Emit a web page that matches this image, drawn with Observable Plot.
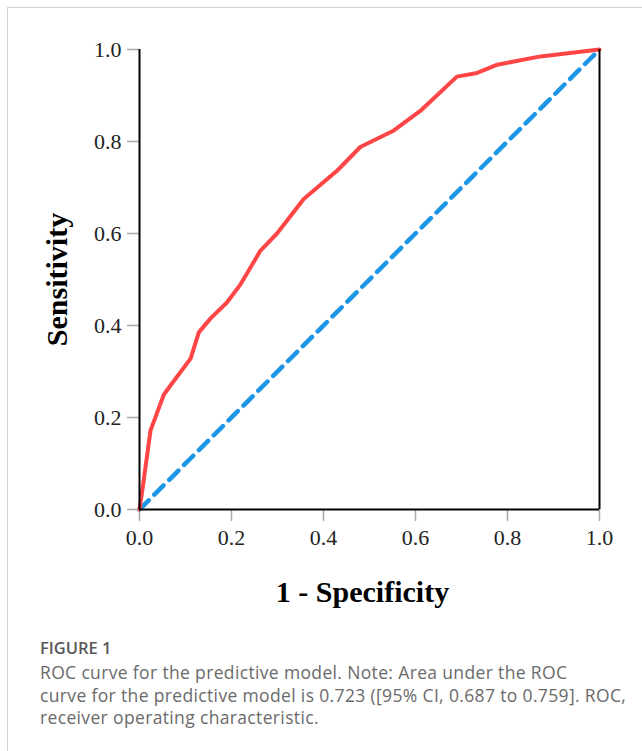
<!DOCTYPE html>
<html>
<head>
<meta charset="utf-8">
<script src="https://cdn.jsdelivr.net/npm/d3@7"></script>
<script src="https://cdn.jsdelivr.net/npm/@observablehq/plot@0.6"></script>
<style>
  html, body { margin: 0; padding: 0; background: #fff; }
  body { width: 642px; height: 751px; position: relative; overflow: hidden; }
  #chart { position: absolute; left: 0; top: 0; }
  #frame { position: absolute; left: 7px; top: 7px; width: 700px; height: 800px;
           border-top: 1.5px solid #d4d4d4; border-left: 1.5px solid #d4d4d4; pointer-events: none; }
  #caption { position: absolute; left: 40px; top: 637px; width: 600px; white-space: nowrap;
             font-family: "Open Sans", Lato, sans-serif; }
  #caption .fig { font-size: 16.5px; font-weight: 600; line-height: 22px; color: #585858; }
  #caption .txt { font-size: 17.5px; line-height: 22.5px; margin-top: 2px; letter-spacing: 0.35px; color: #6a6a6a; }
</style>
</head>
<body>
<div id="chart"></div>
<div id="frame"></div>
<div id="caption">
  <div class="fig">FIGURE 1</div>
  <div class="txt">ROC curve for the predictive model. Note: Area under the ROC<br>curve for the predictive model is 0.723 ([95% CI, 0.687 to 0.759]. ROC,<br>receiver operating characteristic.</div>
</div>
<script>
// ROC curve points
const fpr = [0, 0.007, 0.024, 0.053, 0.075, 0.111, 0.129, 0.154, 0.19, 0.22, 0.263, 0.299, 0.357, 0.43, 0.48, 0.553, 0.611, 0.69, 0.734, 0.778, 0.872, 1];
const tpr = [0, 0.048, 0.172, 0.25, 0.28, 0.328, 0.385, 0.415, 0.45, 0.49, 0.563, 0.6, 0.675, 0.737, 0.788, 0.824, 0.867, 0.941, 0.949, 0.967, 0.985, 1];
// reference diagonal
const diagX = [0, 1];
const diagY = [0, 1];
// ticks
const tickValues = [0, 0.2, 0.4, 0.6, 0.8, 1.0];
const xLabel = "1 - Specificity";
const yLabel = "Sensitivity";

const roc = fpr.map((x, i) => ({x, y: tpr[i]}));
const diag = diagX.map((x, i) => ({x, y: diagY[i]}));

const serif = '"Liberation Serif", "Times New Roman", serif';

const chart = Plot.plot({
  width: 642,
  height: 620,
  marginLeft: 139,
  marginRight: 43,
  marginTop: 49,
  marginBottom: 111,
  style: { fontFamily: serif, fontSize: "22px", background: "transparent", color: "black" },
  x: { domain: [0, 1] },
  y: { domain: [0, 1] },
  marks: [
    Plot.axisX({ ticks: tickValues, tickFormat: d3.format(".1f"), tickSize: 12, tickPadding: 8,
                 stroke: "#a8a8a8", fill: "#222", strokeWidth: 1.5, label: null, fontSize: 22 }),
    Plot.axisY({ ticks: tickValues, tickFormat: d3.format(".1f"), tickSize: 12, tickPadding: 6,
                 stroke: "#a8a8a8", fill: "#222", strokeWidth: 1.5, label: null, fontSize: 22 }),
    Plot.line(diag, { x: "x", y: "y", stroke: "#1E96E6", strokeWidth: 4.5, strokeDasharray: "13,8" }),
    Plot.line(roc, { x: "x", y: "y", stroke: "#FF4545", strokeWidth: 4, strokeLinejoin: "round" }),
    Plot.ruleX([0, 1], { stroke: "black", strokeWidth: 2 }),
    Plot.ruleY([0], { stroke: "black", strokeWidth: 2 }),
    Plot.text([xLabel], { frameAnchor: "bottom", dy: 83, dx: -7, textAnchor: "middle", lineAnchor: "middle",
                          fontSize: 30, fontWeight: "bold", fill: "black" }),
    Plot.text([yLabel], { frameAnchor: "left", dx: -82, rotate: -90, textAnchor: "middle", lineAnchor: "middle",
                          fontSize: 30, fontWeight: "bold", fill: "black" })
  ]
});
document.getElementById("chart").appendChild(chart);
</script>
</body>
</html>
